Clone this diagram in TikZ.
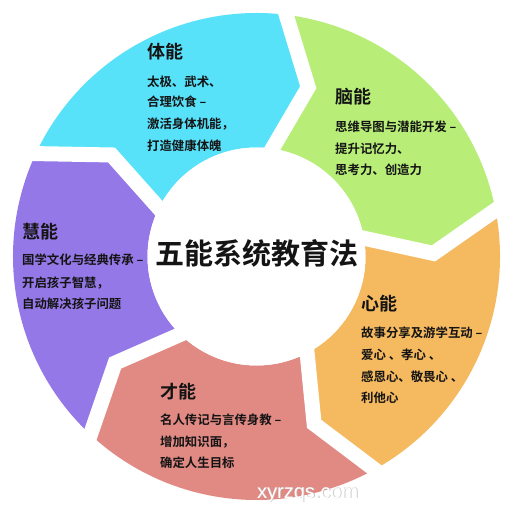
\documentclass[tikz,border=0pt]{standalone}
\usepackage{fontspec}
\newfontfamily\cjk{Noto Sans CJK SC}[BoldFont={Noto Sans CJK SC Bold}]
\newfontfamily\wmfont{Liberation Sans}
\definecolor{segcyan}{RGB}{88,226,250}
\definecolor{seggreen}{RGB}{184,238,120}
\definecolor{segorange}{RGB}{245,185,96}
\definecolor{segpink}{RGB}{225,138,132}
\definecolor{segpurple}{RGB}{149,120,232}
\definecolor{txt}{RGB}{20,20,20}
\tikzset{
  headtext/.style={anchor=west, inner sep=0pt, text=txt, font=\cjk\bfseries\fontsize{18}{18}\selectfont},
  bodytext/.style={anchor=west, inner sep=0pt, text=txt, font=\cjk\bfseries\fontsize{12.4}{12.4}\selectfont},
  gapline/.style={draw=white, line width=15pt, line join=miter, miter limit=10}
}
\newcommand\wnR{243.5}
\newcommand\wnr{109}
\newcommand\wnT{177}
\newcommand\wnseg[2]{%
  \fill[#2] (#1:\wnR) arc[start angle=#1, end angle=#1-72, radius=\wnR]
    -- (#1-83:\wnT) -- (#1-72:\wnr)
    arc[start angle=#1-72, end angle=#1, radius=\wnr]
    -- (#1-11:\wnT) -- cycle;}
\newcommand\wngap[1]{%
  \draw[gapline] (#1:\wnR+10) -- (#1-11:\wnT) -- (#1:\wnr-10);}
\begin{document}
\begin{tikzpicture}[x=1pt,y=1pt]
\useasboundingbox (-256.5,-257.5) rectangle (257.5,256.5);
\fill[white] (-256.5,-257.5) rectangle (257.5,256.5);
% ring segments
\wnseg{156}{segcyan}
\wnseg{84}{seggreen}
\wnseg{12}{segorange}
\wnseg{-60}{segpink}
\wnseg{-132}{segpurple}
% white gaps
\wngap{84}
\wngap{12}
\wngap{-60}
\wngap{-132}
\wngap{156}
% centre
\fill[white] (0,0) circle (\wnr);
\node[inner sep=0pt, text=txt, font=\cjk\bfseries\fontsize{29}{29}\selectfont] (title) at (1,3.5) {五能系统教育法};
% 体能
\node[headtext] (h1) at (-109.5,204.5) {体能};
\node[bodytext] (b1a) at (-109.5,174.8) {太极、武术、};
\node[bodytext] (b1b) at (-109.5,154.8) {合理饮食 –};
\node[bodytext] (b1c) at (-109.5,132.5) {激活身体机能，};
\node[bodytext] (b1d) at (-109.5,110.5) {打造健康体魄};
% 脑能
\node[headtext] (h2) at (78.5,159.5) {脑能};
\node[bodytext] (b2a) at (78.5,129.5) {思维导图与潜能开发 –};
\node[bodytext] (b2b) at (78.5,107.5) {提升记忆力、};
\node[bodytext] (b2c) at (78.5,86.5) {思考力、创造力};
% 心能
\node[headtext] (h3) at (104.5,-47.5) {心能};
\node[bodytext] (b3a) at (104.5,-76.5) {故事分享及游学互动 –};
\node[bodytext] (b3b) at (104.5,-98.5) {爱心 、孝心 、};
\node[bodytext] (b3c) at (104.5,-120.5) {感恩心、敬畏心 、};
\node[bodytext] (b3d) at (104.5,-141.5) {利他心};
% 才能
\node[headtext] (h4) at (-96.5,-135.5) {才能};
\node[bodytext] (b4a) at (-96.5,-163.5) {名人传记与言传身教 –};
\node[bodytext] (b4b) at (-96.5,-185.5) {增加知识面，};
\node[bodytext] (b4c) at (-96.5,-206.5) {确定人生目标};
% 慧能
\node[headtext] (h5) at (-234.5,24.5) {慧能};
\node[bodytext] (b5a) at (-234.5,-3.5) {国学文化与经典传承 –};
\node[bodytext] (b5b) at (-234.5,-26.5) {开启孩子智慧，};
\node[bodytext] (b5c) at (-234.5,-47.5) {自动解决孩子问题};
% watermark
\node[anchor=base west, inner sep=0pt, text=black!25, font=\wmfont\fontsize{20}{20}\selectfont] (wms) at (1.3,-242.3) {xyrzqs.com};
\node[anchor=base west, inner sep=0pt, text=white, font=\wmfont\fontsize{20}{20}\selectfont] (wm) at (0.5,-241.5) {xyrzqs.com};
\end{tikzpicture}
\end{document}
